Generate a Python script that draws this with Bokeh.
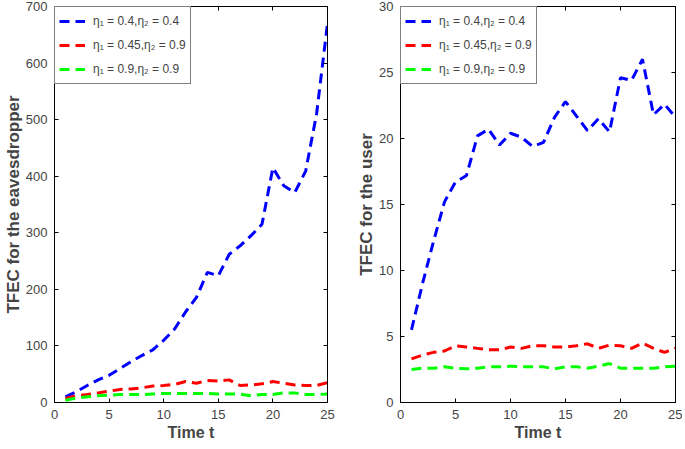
from bokeh.embed import file_html
from bokeh.layouts import row
from bokeh.models import LinearAxis, Range1d, SingleIntervalTicker, Legend, CustomJSTickFormatter
from bokeh.plotting import figure
from bokeh.resources import INLINE

t = list(range(1, 26))

# TFEC for the eavesdropper
eve_a = [10, 19, 30, 40, 48, 60, 72, 83, 93, 110, 130, 160, 186, 230, 224,
         262, 277, 295, 315, 415, 383, 371, 409, 510, 670]
eve_b = [7, 12, 14, 17, 20, 23, 24, 26, 29, 30, 32, 37, 34, 39, 38,
         40, 30, 31, 33, 37, 34, 31, 30, 30, 35]
eve_c = [4, 8, 10, 12, 13, 14, 14, 14, 15, 16, 16, 16, 16, 16, 15,
         15, 15, 12, 14, 14, 17, 17, 14, 14, 15]

# TFEC for the user
usr_a = [5.5, 9.0, 12.2, 15.2, 16.7, 17.2, 20.2, 20.7, 19.5, 20.4, 20.1, 19.4, 19.7,
         21.6, 22.8, 21.7, 20.6, 21.5, 20.5, 24.6, 24.4, 26.0, 21.8, 22.6, 21.6]
usr_b = [3.3, 3.6, 3.8, 3.9, 4.3, 4.2, 4.1, 4.0, 4.0, 4.2, 4.1, 4.3, 4.3,
         4.2, 4.2, 4.3, 4.45, 4.1, 4.35, 4.3, 4.1, 4.5, 4.1, 3.8, 4.1]
usr_c = [2.5, 2.6, 2.6, 2.7, 2.6, 2.55, 2.6, 2.7, 2.7, 2.75, 2.7, 2.7, 2.7,
         2.55, 2.7, 2.7, 2.6, 2.75, 2.95, 2.6, 2.6, 2.6, 2.6, 2.7, 2.75]

labels = ["η₁ = 0.4,η₂ = 0.4", "η₁ = 0.45,η₂ = 0.9", "η₁ = 0.9,η₂ = 0.9"]
colors = ["#0000FF", "#FF0000", "#00FF00"]

FONT = "Liberation Sans"


def style_axis(ax, labels_on=True):
    ax.axis_line_color = "black"
    ax.major_tick_line_color = "black"
    ax.major_tick_in = 4
    ax.major_tick_out = 0
    ax.minor_tick_line_color = None
    ax.major_label_text_font = FONT
    ax.major_label_text_font_size = "13px"
    ax.major_label_standoff = 3
    if not labels_on:
        ax.formatter = CustomJSTickFormatter(code="return ''")
        ax.major_label_standoff = 0
    ax.axis_label_text_font = FONT
    ax.axis_label_text_font_style = "bold"


def make(series, ymax, ystep, ylabel, fw, left, right):
    p = figure(frame_width=fw, frame_height=396, output_backend="svg", toolbar_location=None,
               x_range=Range1d(0, 25), y_range=Range1d(0, ymax),
               min_border_left=left, min_border_right=right,
               min_border_top=6, min_border_bottom=4)
    p.xgrid.grid_line_color = None
    p.ygrid.grid_line_color = None
    p.outline_line_color = "black"
    xt = SingleIntervalTicker(interval=5)
    yt = SingleIntervalTicker(interval=ystep)
    p.xaxis.ticker = xt
    p.yaxis.ticker = yt
    style_axis(p.xaxis[0])
    style_axis(p.yaxis[0])
    p.xaxis.axis_label = "Time t"
    p.xaxis.axis_label_text_font_size = "16px"
    p.xaxis.axis_label_standoff = 2
    p.yaxis.axis_label = ylabel
    p.yaxis.axis_label_text_font_size = "17px"
    p.yaxis.axis_label_standoff = 0
    top = LinearAxis(ticker=xt)
    style_axis(top, False)
    p.add_layout(top, "above")
    rgt = LinearAxis(ticker=yt)
    style_axis(rgt, False)
    p.add_layout(rgt, "right")

    items = []
    for ys, c, lab in zip(series, colors, labels):
        r = p.line(t, ys, line_color=c, line_width=3, line_dash="10 6")
        items.append((lab, [r]))
    leg = Legend(items=items, location="top_left")
    leg.margin = 0
    leg.padding = 4
    leg.spacing = 4
    leg.glyph_width = 26
    leg.glyph_height = 20
    leg.label_text_font = FONT
    leg.label_text_font_size = "12px"
    leg.label_standoff = 8
    leg.border_line_color = "black"
    leg.border_line_width = 1
    leg.background_fill_alpha = 1
    p.add_layout(leg, "center")
    return p


p1 = make([eve_a, eve_b, eve_c], 700, 100, "TFEC for the eavesdropper", 273, 46, 27)
p2 = make([usr_a, usr_b, usr_c], 30, 5, "TFEC for the user", 275, 40, 7)

p = row(p1, p2)
open("out.html", "w").write(file_html(p, INLINE))
